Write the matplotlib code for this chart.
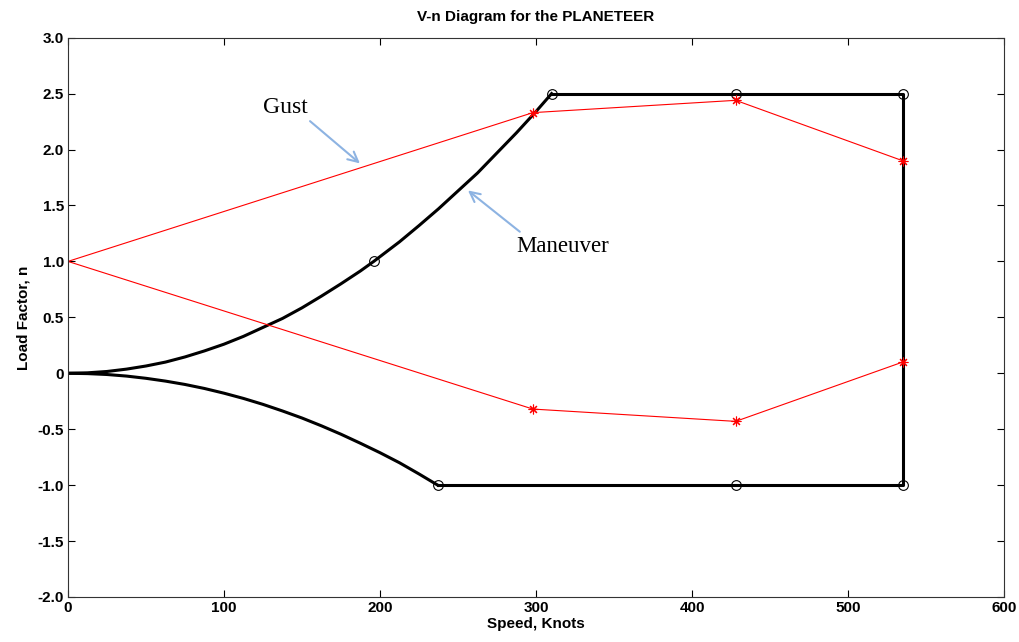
import matplotlib
matplotlib.use("Agg")
import matplotlib.pyplot as plt

# maneuver envelope, positive branch
pos_speed = [0, 12.5, 25, 37.5, 50, 62.5, 75, 87.5, 100, 112.5, 125, 137.5, 150, 162.5,
             175, 187.5, 196, 212.5, 225, 237.5, 250, 262.5, 275, 287.5, 300, 310]
pos_n = [0, 0.004, 0.016, 0.037, 0.065, 0.10, 0.146, 0.20, 0.26, 0.33, 0.41, 0.49, 0.585, 0.69,
         0.80, 0.915, 1.0, 1.175, 1.32, 1.47, 1.63, 1.79, 1.97, 2.15, 2.34, 2.5]

# maneuver envelope, negative branch
neg_speed = [0, 12.5, 25, 37.5, 50, 62.5, 75, 87.5, 100, 112.5, 125, 137.5, 150, 162.5,
             175, 187.5, 200, 212.5, 225, 237]
neg_n = [0, -0.003, -0.011, -0.025, -0.045, -0.07, -0.10, -0.136, -0.178, -0.225, -0.278,
         -0.337, -0.40, -0.47, -0.545, -0.626, -0.71, -0.80, -0.90, -1.0]

# straight part of the envelope
env_speed = [310, 428, 535, 535, 428, 237]
env_n = [2.5, 2.5, 2.5, -1.0, -1.0, -1.0]

# circle markers on the envelope
circ_speed = [196, 310, 428, 535, 237, 428, 535]
circ_n = [1.0, 2.5, 2.5, 2.5, -1.0, -1.0, -1.0]

# gust lines
gust_speed = [0, 298, 428, 535]
gust_up = [1.0, 2.33, 2.44, 1.9]
gust_lo = [1.0, -0.32, -0.43, 0.10]

xticks = [0, 100, 200, 300, 400, 500, 600]
yticks = [-2.0, -1.5, -1.0, -0.5, 0, 0.5, 1.0, 1.5, 2.0, 2.5, 3.0]
ytick_labels = ["-2.0", "-1.5", "-1.0", "-0.5", "0", "0.5", "1.0", "1.5", "2.0", "2.5", "3.0"]

plt.rcParams['font.family'] = ['Liberation Sans', 'DejaVu Sans']

fig = plt.figure(figsize=(10.19, 6.42), dpi=100)
ax = fig.add_axes([0.0667, 0.0701, 0.9186, 0.8712])

ax.plot(pos_speed, pos_n, color='black', lw=2.2)
ax.plot(neg_speed, neg_n, color='black', lw=2.2)
ax.plot(env_speed, env_n, color='black', lw=2.2)
ax.plot(circ_speed, circ_n, ls='none', marker='o', mfc='none', mec='black', ms=7, mew=0.8)

ast = (8, 2, 0)
ax.plot(gust_speed, gust_up, color='red', lw=0.8)
ax.plot(gust_speed[1:], gust_up[1:], ls='none', marker=ast, color='red', ms=7, mew=0.8)
ax.plot(gust_speed, gust_lo, color='red', lw=0.8)
ax.plot(gust_speed[1:], gust_lo[1:], ls='none', marker=ast, color='red', ms=7, mew=0.8)

arrow_col = '#8db3e2'
ax.annotate('', xy=(188.5, 1.86), xytext=(153.8, 2.27),
            arrowprops=dict(arrowstyle='->', color=arrow_col, lw=1.5, mutation_scale=18))
ax.annotate('', xy=(255, 1.65), xytext=(291, 1.25),
            arrowprops=dict(arrowstyle='->', color=arrow_col, lw=1.5, mutation_scale=18))
ax.text(125, 2.38, 'Gust', family='Liberation Serif', fontsize=17, va='center', ha='left')
ax.text(287.5, 1.13, 'Maneuver', family='Liberation Serif', fontsize=16.5, va='center', ha='left')

ax.set_xlim(0, 600)
ax.set_ylim(-2, 3)
ax.set_xticks(xticks)
ax.set_yticks(yticks)
ax.set_yticklabels(ytick_labels)
ax.tick_params(direction='in', top=True, right=True, length=5, width=0.8,
               labelsize=11, pad=3)
for lab in ax.get_xticklabels() + ax.get_yticklabels():
    lab.set_fontweight('bold')
for s in ax.spines.values():
    s.set_linewidth(0.8)
    s.set_color('#333333')

ax.set_title('V-n Diagram for the PLANETEER', fontsize=11, fontweight='bold', pad=12)
ax.set_xlabel('Speed, Knots', fontsize=11, fontweight='bold', labelpad=1)
ax.set_ylabel('Load Factor, n', fontsize=11, fontweight='bold', labelpad=5)

fig.savefig('out.png', dpi=100)
